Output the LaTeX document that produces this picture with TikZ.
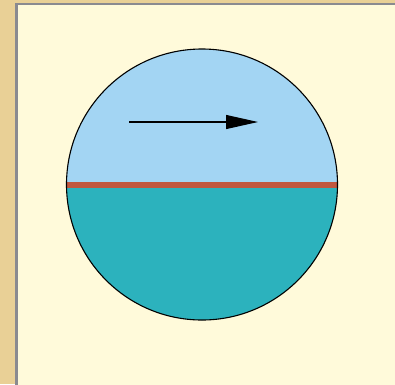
\documentclass[tikz,border=0pt]{standalone}
\usetikzlibrary{arrows.meta}
\definecolor{tan}{HTML}{E9D096}
\definecolor{cream}{HTML}{FFFADA}
\definecolor{frame}{HTML}{8A8A90}
\definecolor{sky}{HTML}{A3D5F3}
\definecolor{teal}{HTML}{2CB2BD}
\definecolor{rust}{HTML}{C1573F}
\tikzset{
  panel/.style={fill=cream, draw=frame, line width=2.5pt},
  arrowline/.style={line width=1.1pt, -{Triangle[length=32pt,width=14pt]}},
}
\begin{document}
\begin{tikzpicture}[x=1pt,y=-1pt]
\useasboundingbox (0,0) rectangle (395,384);
\fill[tan] (0,0) rectangle (395,384);
\draw[panel] (16.5,4) rectangle (400,390);
\coordinate (c) at (202,184.5);
\begin{scope}
  \clip (c) circle (135.5);
  \fill[sky] (67,40) rectangle (338,184.5);
  \fill[teal] (67,184.5) rectangle (338,330);
  \draw[rust, line width=6pt] (60,184.5) -- (345,184.5);
\end{scope}
\draw[line width=1.1pt] (c) circle (135.5);
\coordinate (a1) at (129,122);
\coordinate (a2) at (258,122);
\draw[arrowline] (a1) -- (a2);
\end{tikzpicture}
\end{document}
